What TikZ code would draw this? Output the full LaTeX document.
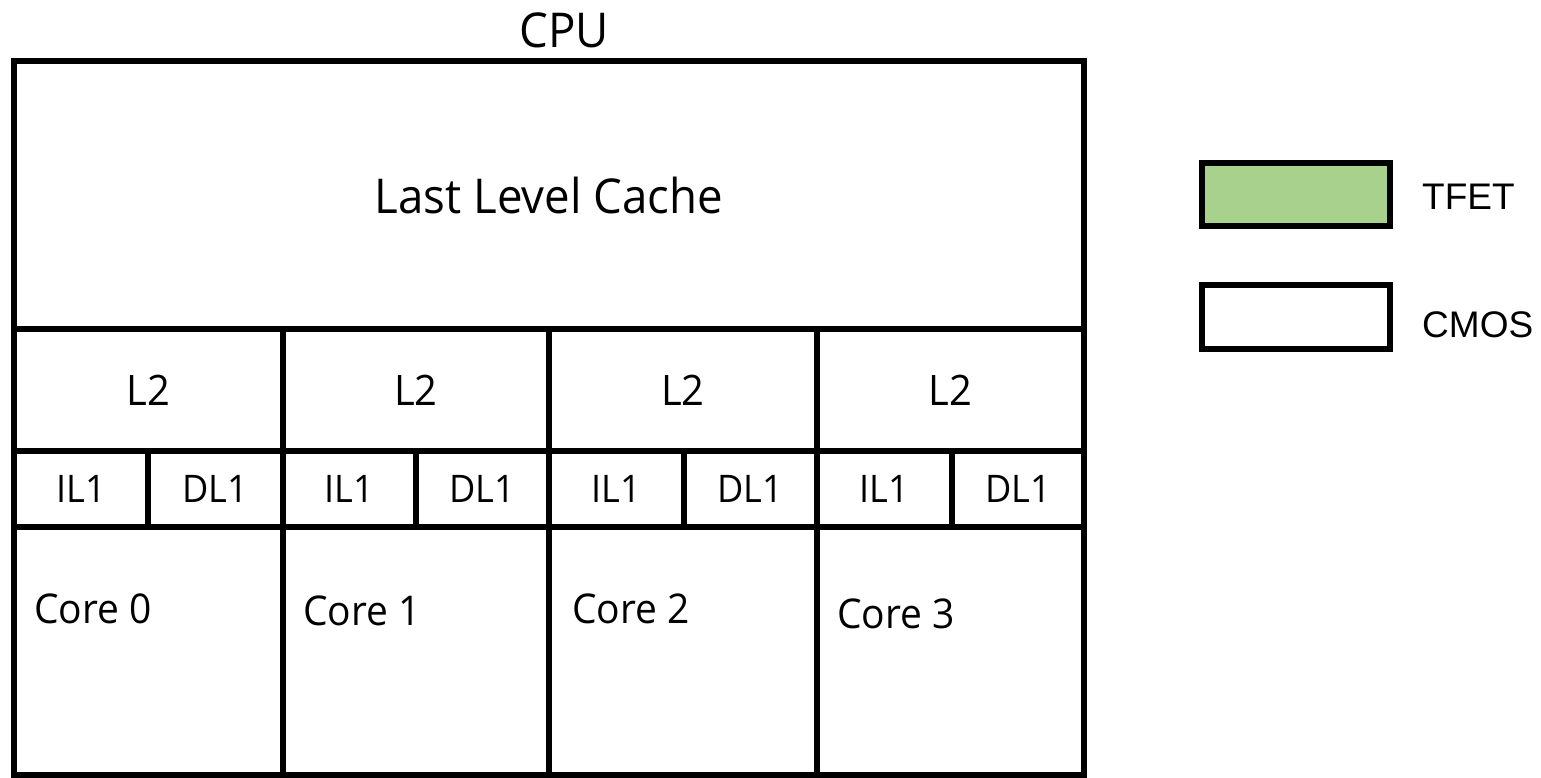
\documentclass[tikz,border=0pt]{standalone}
\usepackage{fontspec}
\setmainfont[FakeStretch=0.95]{Open Sans}
\newfontfamily\legendfont{Liberation Sans}
\definecolor{tfetgreen}{HTML}{A9D18E}
\begin{document}
\begin{tikzpicture}[x=1pt,y=-1pt,
  cell/.style={draw=black, line width=6pt, fill=white, inner sep=0pt, outer sep=0pt},
  big/.style={font=\fontsize{48}{56}\selectfont},
  mid/.style={font=\fontsize{42}{50}\selectfont},
  small/.style={font=\fontsize{38}{46}\selectfont},
  corelbl/.style={anchor=base west, inner sep=0pt, font=\fontsize{41}{49}\selectfont},
  legbox/.style={draw=black, line width=6pt, inner sep=0pt, minimum width=188pt, minimum height=63pt},
  legtxt/.style={anchor=base west, inner sep=0pt, font=\legendfont\fontsize{37}{43}\selectfont}]
\useasboundingbox (0,0) rectangle (1541,777);
% Last level cache
\node[cell, big, minimum width=1070pt, minimum height=268pt] (llc) at (549,195) {Last Level Cache};
% L2 row
\node[cell, mid, minimum width=269pt, minimum height=122pt] (l2a) at (148.5,390) {L2};
\node[cell, mid, minimum width=266pt, minimum height=122pt] (l2b) at (416,390) {L2};
\node[cell, mid, minimum width=268pt, minimum height=122pt] (l2c) at (683,390) {L2};
\node[cell, mid, minimum width=267pt, minimum height=122pt] (l2d) at (950.5,390) {L2};
% L1 row
\node[cell, small, minimum width=134pt, minimum height=76pt] (il0) at (81,489) {IL1};
\node[cell, small, minimum width=135pt, minimum height=76pt] (dl0) at (215.5,489) {DL1};
\node[cell, small, minimum width=133pt, minimum height=76pt] (il1) at (349.5,489) {IL1};
\node[cell, small, minimum width=133pt, minimum height=76pt] (dl1) at (482.5,489) {DL1};
\node[cell, small, minimum width=135pt, minimum height=76pt] (il2) at (616.5,489) {IL1};
\node[cell, small, minimum width=133pt, minimum height=76pt] (dl2) at (750.5,489) {DL1};
\node[cell, small, minimum width=135pt, minimum height=76pt] (il3) at (884.5,489) {IL1};
\node[cell, small, minimum width=132pt, minimum height=76pt] (dl3) at (1018,489) {DL1};
% Core row
\node[cell, minimum width=269pt, minimum height=248pt] (c0) at (148.5,651) {};
\node[cell, minimum width=266pt, minimum height=248pt] (c1) at (416,651) {};
\node[cell, minimum width=268pt, minimum height=248pt] (c2) at (683,651) {};
\node[cell, minimum width=267pt, minimum height=248pt] (c3) at (950.5,651) {};
\node[corelbl] (t0) at (34,623) {Core 0};
\node[corelbl] (t1) at (303,625) {Core 1};
\node[corelbl] (t2) at (572,623) {Core 2};
\node[corelbl] (t3) at (837,628) {Core 3};
% CPU title
\node[big, anchor=base, inner sep=0pt] (cpu) at (564,47) {CPU};
% Legend
\node[legbox, fill=tfetgreen] (lgt) at (1295.5,194) {};
\node[legbox, fill=white, minimum height=64pt] (lgc) at (1295.5,316.5) {};
\node[legtxt] (lt) at (1422,209) {TFET};
\node[legtxt] (lc) at (1422,337) {CMOS};
\end{tikzpicture}
\end{document}
